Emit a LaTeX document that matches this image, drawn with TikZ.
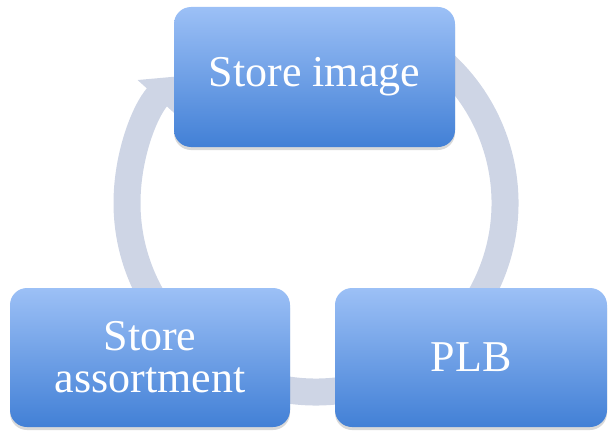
\documentclass[tikz,border=0pt]{standalone}
\usepackage{fontspec}
\setmainfont{Liberation Serif}
\usetikzlibrary{arrows.meta,shadows,calc}
\definecolor{ringcol}{RGB}{206,213,229}
\definecolor{boxtop}{RGB}{156,192,246}
\definecolor{boxbot}{RGB}{66,128,214}
\tikzset{
  cyclebox/.style={rounded corners=17pt, top color=boxtop, bottom color=boxbot,
    draw=none, text=white, align=center,
    font=\fontsize{44}{42}\selectfont,
    drop shadow={shadow xshift=0pt, shadow yshift=-3pt, opacity=0.25, fill=black!60}},
  ringarrow/.style={draw=ringcol, line width=27pt,
    -{Triangle[width=50pt,length=28pt]}}
}
\begin{document}
\begin{tikzpicture}[x=1pt,y=1pt]
\useasboundingbox (0,0) rectangle (609,432);
\coordinate (c) at (316,229);
\coordinate (ringstart) at ($(c)+(60:189)$);
\draw[ringarrow] (ringstart) arc[start angle=60, end angle=-222, radius=189];
\node[cyclebox, minimum width=281pt, minimum height=140pt] (img) at (314.5,355) {Store image};
\node[cyclebox, minimum width=280pt, minimum height=139pt] (asst) at (150,74.5) {Store\\assortment};
\node[cyclebox, minimum width=272pt, minimum height=139pt] (plb) at (471,74.5) {PLB};
\end{tikzpicture}
\end{document}
